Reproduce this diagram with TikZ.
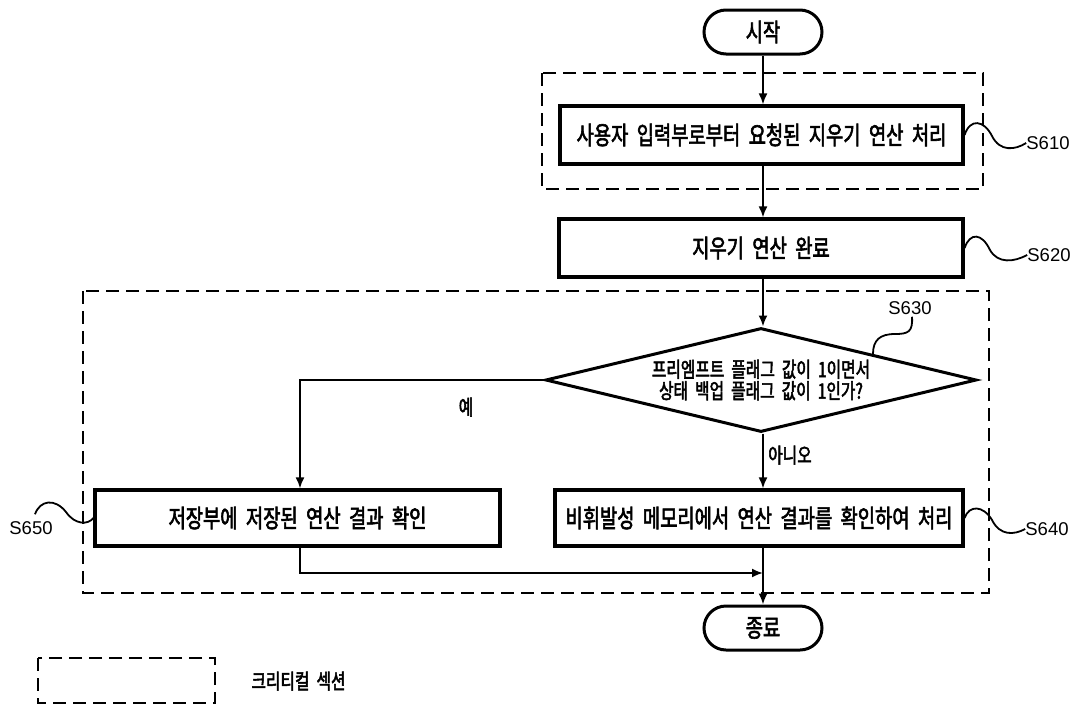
\documentclass[tikz,border=0pt]{standalone}
\usepackage{fontspec}
\setmainfont{Noto Sans CJK KR}[FakeStretch=0.75,WordSpace=2,FakeBold=2.4]
\newfontfamily\labelfont{Liberation Sans}
\usetikzlibrary{shapes.geometric,arrows.meta,calc}

\begin{document}
\begin{tikzpicture}[x=1pt,y=-1pt,
  boxtext/.style={font=\fontsize{25}{27}\selectfont},
  midtext/.style={font=\fontsize{21}{21.5}\selectfont},
  process/.style={draw, line width=3.2pt, inner sep=0pt, boxtext},
  terminal/.style={draw, line width=3pt, rounded corners=22pt, minimum width=118pt, minimum height=44pt, inner sep=0pt, boxtext},
  decision/.style={draw, diamond, line width=3pt, inner sep=0pt, minimum width=431pt, minimum height=104pt, aspect=4.1, midtext, align=center},
  flow/.style={line width=1.9pt, -{Latex[length=11pt,width=9pt]}},
  critical/.style={line width=2.2pt, dash pattern=on 13pt off 7pt},
  lead/.style={line width=1.8pt},
  steplabel/.style={font=\labelfont\fontsize{18.5}{22}\selectfont, inner sep=0pt}
]
\useasboundingbox (0,0) rectangle (1080,705);

% critical sections
\draw[critical] (542,73) rectangle (983,189);
\draw[critical] (83,291) rectangle (989,593);

% flow nodes
\node[terminal] (start) at (763,32) {시작};
\node[process, minimum width=403pt, minimum height=58pt] (s610) at (761.5,135) {사용자 입력부로부터 요청된 지우기 연산 처리};
\node[process, minimum width=404pt, minimum height=58pt] (s620) at (761,248) {지우기 연산 완료};
\node[decision] (dec) at (761,380) {프리엠프트 플래그 값이 1이면서\\상태 백업 플래그 값이 1인가?};
\node[process, minimum width=405pt, minimum height=56pt] (s650) at (297.5,518) {저장부에 저장된 연산 결과 확인};
\node[process, minimum width=408pt, minimum height=56pt] (s640) at (759,518) {비휘발성 메모리에서 연산 결과를 확인하여 처리};
\node[terminal] (end) at (763,628) {종료};

% connectors
\draw[flow] (start.south) -- (start.south |- s610.north);
\draw[flow] (s610.south -| start) -- (start |- s620.north);
\draw[flow] (s620.south -| start) -- (start |- dec.north);
\draw[flow] (dec.west) -| (s650.north -| 300,0);
\draw[flow] (dec.south -| start) -- (start |- s640.north);
\draw[flow] (s640.south -| start) -- (end.north);
\coordinate (merge) at (763,573);
\draw[flow] (s650.south -| 300,0) |- (merge);

\node[midtext] (yes) at (466,407) {예};
\node[midtext] (no) at (790,455) {아니오};

% step labels with their leaders
\node[steplabel] (l610) at (1048,143) {S610};
\node[steplabel] (l620) at (1049,255) {S620};
\node[steplabel] (l630) at (910,308) {S630};
\node[steplabel] (l650) at (31,528) {S650};
\node[steplabel] (l640) at (1047,529) {S640};

\draw[lead] (s610.east) .. controls (970,118) and (984,120) .. (992,136) .. controls (1000,152) and (1015,150) .. (l610.west);
\draw[lead] (s620.east) .. controls (970,232) and (982,233) .. (990,250) .. controls (998,264) and (1014,262) .. (l620.west);
\draw[lead] (s640.east) .. controls (969,505) and (983,505) .. (992,520) .. controls (1000,536) and (1014,535) .. (l640.west);
\coordinate (d630) at ($(dec.north)!0.516!(dec.east)$);
\coordinate (t630) at ($(l630.south)+(2,2)$);
\draw[lead] (t630) .. controls (913,332) and (908,334) .. (895,334) .. controls (880,334) and (873,340) .. (d630);
\coordinate (t650) at ($(l650.north)+(4,-7)$);
\draw[lead] (t650) .. controls (40,500) and (55,498) .. (66,512) .. controls (75,525) and (88,525) .. (s650.west);

% legend
\draw[critical] (38,658) rectangle (215,703);
\node[midtext, anchor=west] (legend) at (248,681) {크리티컬 섹션};
\end{tikzpicture}
\end{document}
